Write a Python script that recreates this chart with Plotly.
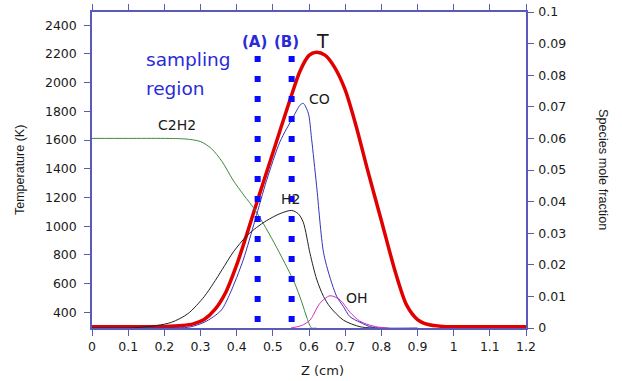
import plotly.graph_objects as go

# ---------------- data ----------------
T_z = [0, 0.1, 0.2, 0.25, 0.28, 0.31, 0.34, 0.37, 0.40, 0.425, 0.45, 0.5, 0.55, 0.575,
       0.6, 0.62, 0.645, 0.67, 0.7, 0.73, 0.76, 0.8, 0.84, 0.87, 0.9, 0.93, 0.97, 1.0, 1.1, 1.2]
T_val = [300, 300, 301, 308, 320, 350, 420, 540, 730, 920, 1120, 1510, 1900, 2080,
         2190, 2212, 2190, 2110, 1950, 1700, 1410, 1040, 670, 450, 350, 315, 302, 300, 300, 300]

C2H2_z = [0, 0.1, 0.2, 0.26, 0.3, 0.33, 0.36, 0.39, 0.42, 0.45, 0.48, 0.51, 0.54,
          0.56, 0.58, 0.595, 0.607, 0.62]
C2H2_val = [0.06, 0.06, 0.06, 0.0598, 0.059, 0.0568, 0.0526, 0.0468, 0.042, 0.0375, 0.0318,
            0.0256, 0.019, 0.0143, 0.0082, 0.003, 0.0, 0.0]

CO_z = [0, 0.1, 0.2, 0.27, 0.31, 0.335, 0.358, 0.382, 0.418, 0.451, 0.483, 0.52, 0.557,
        0.575, 0.584, 0.598, 0.607, 0.621, 0.64, 0.658, 0.677, 0.695, 0.713, 0.741, 0.77,
        0.8, 0.9]
CO_val = [0, 0, 0, 0.0003, 0.0018, 0.0035, 0.0057, 0.011, 0.0215, 0.0342, 0.0468, 0.059, 0.0669,
          0.0705, 0.0711, 0.068, 0.06, 0.045, 0.024, 0.016, 0.0099, 0.0068, 0.0036, 0.0018, 0.0004,
          0.0, 0.0]

H2_z = [0, 0.1, 0.13, 0.18, 0.22, 0.265, 0.31, 0.335, 0.36, 0.391, 0.428, 0.455, 0.483,
        0.52, 0.552, 0.57, 0.584, 0.603, 0.621, 0.64, 0.658, 0.695, 0.741, 0.78]
H2_val = [0, 0, 0.0002, 0.0008, 0.0018, 0.0045, 0.0099, 0.014, 0.0185, 0.0241, 0.0292, 0.0318,
          0.034, 0.0362, 0.0372, 0.0362, 0.0335, 0.0235, 0.0155, 0.010, 0.0067, 0.0025, 0.0004, 0.0]

OH_z = [0.55, 0.58, 0.603, 0.63, 0.658, 0.686, 0.713, 0.74, 0.76, 0.79, 0.82]
OH_val = [0, 0.0008, 0.0025, 0.0078, 0.0102, 0.0089, 0.005, 0.0022, 0.0012, 0.0003, 0.0]

sampling_z = [0.458, 0.552]
sampling_labels = ["(A)", "(B)"]
sampling_top = 0.0861

x_ticks = [round(0.1 * i, 1) for i in range(13)]
T_ticks = list(range(400, 2401, 200))
frac_ticks = [round(0.01 * i, 2) for i in range(11)]

AX = "#5a5ab8"
TXT = "#1a1a1a"
BLUE_TXT = "#2a2ad8"
FONT = "DejaVu Sans"

fig = go.Figure()

species = [
    ("C2H2", C2H2_z, C2H2_val, "#3d8a3d"),
    ("CO", CO_z, CO_val, "#3434b8"),
    ("H2", H2_z, H2_val, "#222222"),
    ("OH", OH_z, OH_val, "#d42cc4"),
]
for name, zz, vv, col in species:
    fig.add_trace(go.Scatter(x=zz, y=vv, yaxis="y2", mode="lines", name=name,
                             line=dict(color=col, width=1, shape="spline", smoothing=0.8)))

fig.add_trace(go.Scatter(x=T_z, y=T_val, mode="lines", name="T",
                         line=dict(color="#e00000", width=3.5, shape="spline", smoothing=0.8)))

for z in sampling_z:
    fig.add_trace(go.Scatter(x=[z, z], y=[sampling_top, 0], yaxis="y2", mode="lines",
                             line=dict(color="#0a0aff", width=6, dash="6px,14px")))

ann = []
lab_font = dict(family=FONT, size=14, color=TXT)
for text, zx, fy in [("C2H2", 0.235, 0.0642), ("CO", 0.628, 0.0725),
                     ("H2", 0.55, 0.0408), ("OH", 0.733, 0.0095)]:
    ann.append(dict(x=zx, y=fy, xref="x", yref="y2", text=text, showarrow=False, font=lab_font))
ann.append(dict(x=0.638, y=0.0908, xref="x", yref="y2", text="T", showarrow=False,
                font=dict(family=FONT, size=19, color=TXT)))
for lbl, zx in zip(sampling_labels, [0.448, 0.539]):
    ann.append(dict(x=zx, y=0.0905, xref="x", yref="y2", text="<b>" + lbl + "</b>", showarrow=False,
                    font=dict(family=FONT, size=15, color=BLUE_TXT)))
ann.append(dict(x=0.144, y=0.0851, xref="x", yref="y2", text="sampling", showarrow=False,
                xanchor="left", font=dict(family=FONT, size=18.5, color=BLUE_TXT)))
ann.append(dict(x=0.144, y=0.0759, xref="x", yref="y2", text="region", showarrow=False,
                xanchor="left", font=dict(family=FONT, size=18.5, color=BLUE_TXT)))
ann.append(dict(x=-0.1659, y=0.5, xref="paper", yref="paper", text="Temperature (K)",
                textangle=-90, showarrow=False, xanchor="center", yanchor="middle",
                font=dict(family="Liberation Sans", size=12.5, color=TXT)))
ann.append(dict(x=1.1774, y=0.5, xref="paper", yref="paper", text="Species mole fraction",
                textangle=90, showarrow=False, xanchor="center", yanchor="middle",
                font=dict(family="Liberation Sans", size=12.7, color=TXT)))
ann.append(dict(x=0.53, y=-0.133, xref="paper", yref="paper", text="Z (cm)",
                showarrow=False, xanchor="center", yanchor="middle",
                font=dict(family=FONT, size=13, color=TXT)))

tickfont = dict(family=FONT, size=12.5, color=TXT)
fig.update_layout(
    width=622, height=381,
    margin=dict(l=92, r=96, t=12, b=53, autoexpand=False),
    paper_bgcolor="white", plot_bgcolor="white",
    showlegend=False,
    xaxis=dict(range=[0, 1.2], tickvals=x_ticks, ticktext=[f"{v:g}" for v in x_ticks],
               showgrid=False, zeroline=False, showline=True, linecolor=AX, linewidth=1.5,
               ticks="outside", ticklen=6, tickcolor=AX, mirror="ticks", tickfont=tickfont,
               automargin=False, ticklabeloverflow="allow"),
    yaxis=dict(range=[291, 2492], tickvals=T_ticks, showgrid=False, zeroline=False,
               showline=True, linecolor=AX, linewidth=1.5, ticks="outside", ticklen=6,
               tickcolor=AX, tickfont=tickfont, automargin=False, ticklabelstandoff=5,
               ticklabeloverflow="allow"),
    yaxis2=dict(range=[0, 0.1], tickvals=frac_ticks, ticktext=[f"{v:g}" for v in frac_ticks],
                overlaying="y", side="right", showgrid=False, zeroline=False,
                showline=True, linecolor=AX, linewidth=1.5, ticks="outside", ticklen=6,
                tickcolor=AX, tickfont=tickfont, automargin=False, ticklabelstandoff=2,
                ticklabeloverflow="allow"),
    annotations=ann,
)

fig.write_html("out.html", config={"displayModeBar": False},
               post_script="document.body.style.margin='0px';")
